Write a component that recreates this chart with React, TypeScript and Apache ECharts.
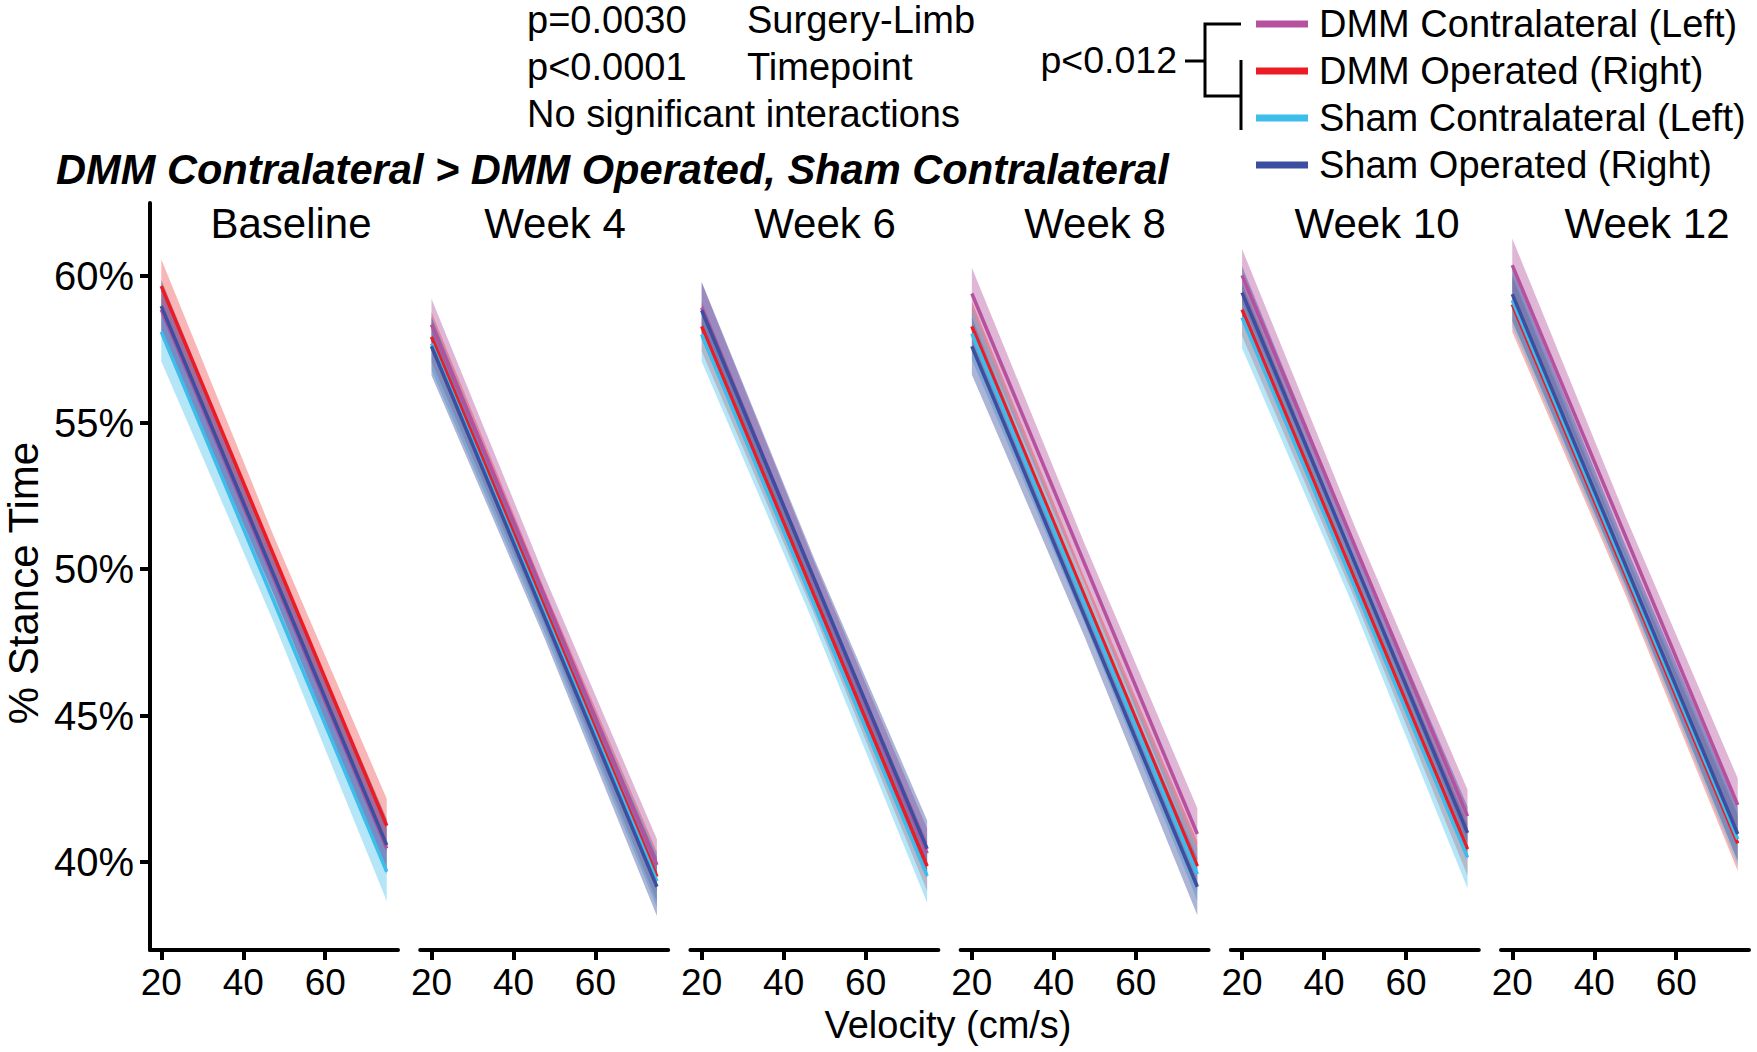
import React, { useEffect, useRef } from "react";
import * as echarts from "echarts";

// ---------- data ----------
const panelNames = ["Baseline", "Week 4", "Week 6", "Week 8", "Week 10", "Week 12"];
const groupNames = [
  "DMM Contralateral (Left)",
  "DMM Operated (Right)",
  "Sham Contralateral (Left)",
  "Sham Operated (Right)",
];
const groupColors = ["#B5519E", "#EC1C24", "#3CBDEB", "#3C4EA0"];
const ribbonColors = [
  "rgba(181,81,158,0.42)",
  "rgba(236,40,40,0.34)",
  "rgba(60,189,235,0.38)",
  "rgba(60,78,160,0.42)",
];

// velocity (cm/s) at the ends and middle of each fitted line
const velocityStart = 20;
const velocityMid = 47.5;
const velocityEnd = 75;

// % stance time at velocity 20, per panel, per group
const stanceAtStart = [
  [58.86, 59.66, 58.1, 58.98],
  [58.35, 57.93, 57.7, 57.61],
  [58.93, 58.29, 58.01, 58.84],
  [59.41, 58.29, 58.04, 57.61],
  [60.03, 58.86, 58.59, 59.44],
  [60.38, 59.04, 59.18, 59.39],
];
// % stance time at velocity 75, per panel, per group
const stanceAtEnd = [
  [40.47, 41.24, 39.67, 40.58],
  [39.9, 39.5, 39.35, 39.16],
  [40.3, 39.86, 39.53, 40.45],
  [40.96, 39.86, 39.59, 39.16],
  [41.57, 40.44, 40.16, 41.0],
  [41.95, 40.64, 40.78, 40.96],
];
// confidence band half-width at the line ends
const ciHalfEnds = [
  [0.9, 0.92, 1.0, 0.9],
  [0.88, 0.85, 0.9, 1.0],
  [0.85, 0.85, 0.92, 0.97],
  [0.88, 0.85, 0.9, 0.97],
  [0.9, 0.9, 1.05, 0.9],
  [0.91, 0.94, 0.9, 0.92],
];
// confidence band half-width at the middle of the line
const ciHalfMid = [
  [0.66, 0.66, 0.72, 0.66],
  [0.66, 0.62, 0.66, 0.72],
  [0.62, 0.62, 0.68, 0.7],
  [0.68, 0.62, 0.66, 0.7],
  [0.66, 0.66, 0.76, 0.66],
  [0.68, 0.68, 0.66, 0.68],
];

const yTicks = [40, 45, 50, 55, 60];
const xTicks = [20, 40, 60];
const yMin = 37.0;
const yMax = 62.5;
const xMin = 17.25;
const xMax = 77.75;

const statLines = [
  ["p=0.0030", "Surgery-Limb"],
  ["p<0.0001", "Timepoint"],
  ["No significant interactions", ""],
];
const bracketLabel = "p<0.012";
const mainTitle = "DMM Contralateral > DMM Operated, Sham Contralateral";
const xAxisTitle = "Velocity (cm/s)";
const yAxisTitle = "% Stance Time";

// ---------- layout ----------
const FONT = '"Liberation Sans", Arial, Helvetica, sans-serif';
const gridTop = 203;
const gridHeight = 747;
const gridWidth = 248;
const gridLeft0 = 150;
const gridStep = 270.2;
const panelTitleX = [291, 555, 825, 1095, 1377, 1647];

function buildOption() {
  const grids: any[] = [];
  const xAxes: any[] = [];
  const yAxes: any[] = [];
  const series: any[] = [];

  panelNames.forEach((_, p) => {
    grids.push({
      left: gridLeft0 + gridStep * p,
      top: gridTop,
      width: gridWidth,
      height: gridHeight,
      containLabel: false,
    });
    xAxes.push({
      type: "value",
      gridIndex: p,
      min: xMin,
      max: xMax,
      axisLine: { show: true, lineStyle: { color: "#000", width: 4 } },
      axisTick: {
        show: true,
        length: 10,
        customValues: xTicks,
        lineStyle: { color: "#000", width: 4 },
      },
      axisLabel: {
        show: true,
        customValues: xTicks,
        fontSize: 37,
        fontFamily: FONT,
        color: "#000",
        margin: 14,
      },
      splitLine: { show: false },
    });
    yAxes.push({
      type: "value",
      gridIndex: p,
      min: yMin,
      max: yMax,
      show: p === 0,
      axisLine: { show: true, lineStyle: { color: "#000", width: 4 } },
      axisTick: {
        show: true,
        length: 10,
        customValues: yTicks,
        lineStyle: { color: "#000", width: 4 },
      },
      axisLabel: {
        show: true,
        customValues: yTicks,
        formatter: (v: number) => v + "%",
        fontSize: 40,
        fontFamily: FONT,
        color: "#000",
        margin: 16,
      },
      splitLine: { show: false },
    });

    // ribbons
    groupNames.forEach((g, k) => {
      const s = stanceAtStart[p][k];
      const e = stanceAtEnd[p][k];
      const m = (s + e) / 2;
      const hs = ciHalfEnds[p][k];
      const hm = ciHalfMid[p][k];
      series.push({
        type: "custom",
        name: g,
        xAxisIndex: p,
        yAxisIndex: p,
        silent: true,
        z: 2,
        data: [
          [
            velocityStart, s - hs, s + hs,
            velocityMid, m - hm, m + hm,
            velocityEnd, e - hs, e + hs,
          ],
        ],
        encode: { x: [0, 3, 6], y: [1, 2, 4, 5, 7, 8] },
        renderItem: (params: any, api: any) => {
          const v = (i: number) => api.value(i);
          const pts = [
            api.coord([v(0), v(2)]),
            api.coord([v(3), v(5)]),
            api.coord([v(6), v(8)]),
            api.coord([v(6), v(7)]),
            api.coord([v(3), v(4)]),
            api.coord([v(0), v(1)]),
          ];
          return {
            type: "polygon",
            shape: { points: pts },
            style: { fill: ribbonColors[k], stroke: "none" },
          };
        },
      });
    });
    // lines
    groupNames.forEach((g, k) => {
      series.push({
        type: "line",
        name: g,
        xAxisIndex: p,
        yAxisIndex: p,
        z: 3,
        showSymbol: false,
        symbol: "none",
        silent: true,
        lineStyle: { color: groupColors[k], width: 3.5 },
        data: [
          [velocityStart, stanceAtStart[p][k]],
          [velocityEnd, stanceAtEnd[p][k]],
        ],
      });
    });
  });

  const txt = (
    text: string,
    x: number,
    y: number,
    size: number,
    align: string = "left",
    extra: any = {}
  ) => ({
    type: "text",
    x,
    y,
    silent: true,
    ...extra,
    style: {
      text,
      x: 0,
      y: 0,
      fontSize: size,
      fontFamily: FONT,
      fill: "#000",
      textAlign: align,
      align,
      textVerticalAlign: "middle",
      verticalAlign: "middle",
      fontWeight: extra.fontWeight || "normal",
      fontStyle: extra.fontStyle || "normal",
    },
  });

  const graphics: any[] = [];
  const statY = [20, 67, 114];
  statLines.forEach((row, i) => {
    graphics.push(txt(row[0], 527, statY[i], 38));
    if (row[1]) graphics.push(txt(row[1], 747, statY[i], 38));
  });
  // main title
  graphics.push({
    type: "text",
    x: 56,
    y: 169,
    silent: true,
    style: {
      text: mainTitle,
      x: 0,
      y: 0,
      fontSize: 41.6,
      fontFamily: FONT,
      fontWeight: "bold",
      fontStyle: "italic",
      fill: "#000",
      textAlign: "left",
      align: "left",
      textVerticalAlign: "middle",
      verticalAlign: "middle",
    },
  });
  // bracket
  graphics.push(txt(bracketLabel, 1177, 60, 37.5, "right"));
  const bStyle = { stroke: "#000", lineWidth: 3, fill: "none" };
  graphics.push({ type: "line", silent: true, shape: { x1: 1185, y1: 61, x2: 1205, y2: 61 }, style: bStyle });
  graphics.push({
    type: "polyline",
    silent: true,
    shape: { points: [[1241, 24], [1205, 24], [1205, 96], [1241, 96]] },
    style: bStyle,
  });
  graphics.push({ type: "line", silent: true, shape: { x1: 1241, y1: 60, x2: 1241, y2: 130 }, style: bStyle });
  // legend
  const legendY = [24, 71, 118, 165];
  groupNames.forEach((g, k) => {
    graphics.push({
      type: "line",
      silent: true,
      shape: { x1: 1256, y1: legendY[k], x2: 1308, y2: legendY[k] },
      style: { stroke: groupColors[k], lineWidth: 7 },
    });
    graphics.push(txt(g, 1319, legendY[k], 38));
  });
  // panel titles
  panelNames.forEach((n, p) => {
    graphics.push(txt(n, panelTitleX[p], 223, 42, "center"));
  });
  // axis titles
  graphics.push(txt(xAxisTitle, 948, 1025, 38, "center"));
  graphics.push(txt(yAxisTitle, 23, 583, 42, "center", { rotation: Math.PI / 2 }));

  return {
    animation: false,
    backgroundColor: "#fff",
    grid: grids,
    xAxis: xAxes,
    yAxis: yAxes,
    series,
    graphic: { elements: graphics },
  };
}

export default function App() {
  const ref = useRef<HTMLDivElement>(null);
  useEffect(() => {
    if (!ref.current) return;
    const chart = echarts.init(ref.current, undefined, { renderer: "svg" });
    chart.setOption(buildOption() as any);
    return () => chart.dispose();
  }, []);
  return (
    <div
      ref={ref}
      style={{ position: "fixed", left: 0, top: 0, width: 1757, height: 1052, background: "#fff" }}
    />
  );
}
